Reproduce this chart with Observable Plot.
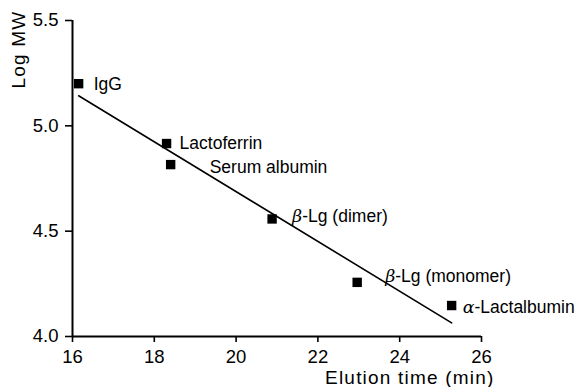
<!DOCTYPE html>
<html>
<head>
<meta charset="utf-8">
<script src="https://cdn.jsdelivr.net/npm/d3@7"></script>
<script src="https://cdn.jsdelivr.net/npm/@observablehq/plot@0.6"></script>
<style>
  body { margin: 0; background: #fff; }
  svg text { font-family: "Liberation Sans", Arial, Helvetica, sans-serif; }
</style>
</head>
<body>
<div id="chart"></div>
<script>
const proteins = ["IgG", "Lactoferrin", "Serum albumin", "β-Lg (dimer)", "β-Lg (monomer)", "α-Lactalbumin"];
const elutionTime = [16.15, 18.30, 18.40, 20.88, 22.96, 25.27];
const logMW = [5.20, 4.916, 4.816, 4.558, 4.257, 4.147];
const xTicks = [16, 18, 20, 22, 24, 26];
const yTicks = [4.0, 4.5, 5.0, 5.5];
const xTitle = "Elution time (min)";
const yTitle = "Log MW";

const data = proteins.map((p, i) => ({protein: p, t: elutionTime[i], mw: logMW[i]}));

// label offsets (style, not data)
const offsets = [
  {dx: 15, dy: 1},
  {dx: 13, dy: 0},
  {dx: 39, dy: 3},
  {dx: 20, dy: -3},
  {dx: 28, dy: -6},
  {dx: 11, dy: 2}
];

const labelMarks = offsets.map((o, i) =>
  Plot.text([data[i]], {
    x: "t", y: "mw", text: "protein",
    textAnchor: "start", dx: o.dx, dy: o.dy,
    fontSize: 17.5, fill: "black"
  })
);

const chart = Plot.plot({
  width: 582,
  height: 387,
  marginLeft: 72,
  marginRight: 101,
  marginTop: 20,
  marginBottom: 51,
  style: {fontFamily: "Liberation Sans, Arial, sans-serif", color: "black", background: "white"},
  x: {domain: [16, 26], label: null},
  y: {domain: [4.0, 5.5], label: null},
  marks: [
    Plot.axisX({ticks: xTicks, tickFormat: d => String(d), tickSize: 6, tickPadding: 7, fontSize: 18.5, strokeWidth: 1.6, label: null}),
    Plot.axisY({ticks: yTicks, tickFormat: d3.format(".1f"), tickSize: 7, tickPadding: 7, fontSize: 18.5, strokeWidth: 1.6, label: null}),
    Plot.ruleX([16], {stroke: "black", strokeWidth: 2}),
    Plot.ruleY([4.0], {stroke: "black", strokeWidth: 2}),
    Plot.linearRegressionY(data, {x: "t", y: "mw", ci: 0, stroke: "black", strokeWidth: 1.6}),
    Plot.dot(data, {x: "t", y: "mw", symbol: "square", r: 5.3, fill: "black", stroke: "none"}),
    ...labelMarks,
    Plot.text([xTitle], {frameAnchor: "bottom-right", textAnchor: "end", lineAnchor: "bottom", dx: 13, dy: 47, fontSize: 19, fill: "black"}),
    Plot.text([yTitle], {frameAnchor: "top-left", rotate: -90, textAnchor: "end", lineAnchor: "middle", dx: -54, dy: -10, fontSize: 19, fill: "black"})
  ]
});

document.getElementById("chart").appendChild(chart);

// italicize Greek letters
d3.select(chart).selectAll("text").each(function() {
  const el = d3.select(this);
  const txt = el.text();
  if (/^[αβ]/.test(txt) && el.selectAll("tspan").empty()) {
    el.text(null);
    el.append("tspan").style("font-style", "italic").style("font-family", "DejaVu Serif, serif").text(txt[0]);
    el.append("tspan").text(txt.slice(1));
  }
});
// letter spacing on axis titles
d3.select(chart).selectAll("text").filter(function() { return d3.select(this).text() === xTitle || d3.select(this).text() === yTitle; })
  .style("letter-spacing", "1.2px");
</script>
</body>
</html>
